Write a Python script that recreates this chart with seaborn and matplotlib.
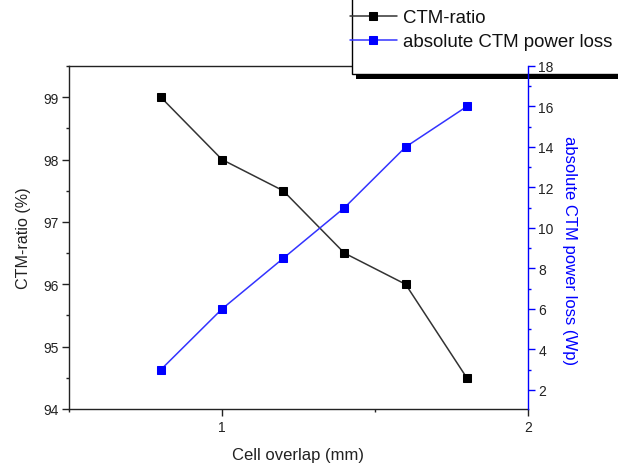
import matplotlib
matplotlib.use("Agg")
import matplotlib.pyplot as plt
import seaborn as sns
import pandas as pd
from matplotlib.patches import Rectangle
from matplotlib.ticker import MultipleLocator

overlap = [0.8, 1.0, 1.2, 1.4, 1.6, 1.8]
ctm_ratio = [99.0, 98.0, 97.5, 96.5, 96.0, 94.5]
power_loss = [3.0, 6.0, 8.5, 11.0, 14.0, 16.0]

sns.set_style("white")
plt.rcParams['font.family'] = ['Liberation Sans', 'DejaVu Sans']

W, H = 618, 464
fig = plt.figure(figsize=(W / 100, H / 100), dpi=100)
ax = fig.add_axes([69 / W, 1 - 410 / H, (528 - 69) / W, (410 - 67) / H])
ax2 = ax.twinx()
ax2.set_zorder(10)

df = pd.DataFrame({"overlap": overlap, "ratio": ctm_ratio, "loss": power_loss})

sns.lineplot(data=df, x="overlap", y="ratio", ax=ax, color="#333333", lw=1.1,
             marker="s", markersize=5.5, markerfacecolor="black",
             markeredgecolor="black", label="CTM-ratio", legend=False)
sns.lineplot(data=df, x="overlap", y="loss", ax=ax2, color="#3333ff", lw=1.1,
             marker="s", markersize=5.5, markerfacecolor="#0000ff",
             markeredgecolor="#0000ff", label="absolute CTM power loss", legend=False)

ax.set_xlim(0.5, 2.0)
ax.set_ylim(94, 99.5)
ax2.set_ylim(1.06, 18)

ax.xaxis.set_major_locator(MultipleLocator(1))
ax.xaxis.set_minor_locator(MultipleLocator(0.5))
ax.yaxis.set_major_locator(MultipleLocator(1))
ax.yaxis.set_minor_locator(MultipleLocator(0.5))
ax2.yaxis.set_major_locator(MultipleLocator(2))
ax2.yaxis.set_minor_locator(MultipleLocator(1))

for a in (ax, ax2):
    for s in a.spines.values():
        s.set_color("#222222")
        s.set_linewidth(1.0)
ax2.spines['right'].set_color("#0000ff")
ax2.spines['top'].set_visible(False)
ax2.spines['left'].set_visible(False)
ax2.spines['bottom'].set_visible(False)
ax.spines['right'].set_visible(False)

ax.tick_params(axis="x", which="major", direction="out", length=5, width=1,
               pad=3, labelsize=10, color="#222222", labelcolor="#222222", bottom=True)
ax.tick_params(axis="y", which="major", direction="out", length=5, width=1,
               pad=2.5, labelsize=10, color="#222222", labelcolor="#222222", left=True)
ax.tick_params(axis="both", which="minor", direction="out", length=2.5, width=1,
               color="#222222", bottom=True, left=True)
ax2.tick_params(axis="y", which="major", direction="out", length=5, width=1,
                pad=2.5, labelsize=10, color="#0000ff", labelcolor="#222222", right=True)
ax2.tick_params(axis="y", which="minor", direction="out", length=2.5, width=1,
                color="#0000ff", right=True)

ax.set_xlabel("Cell overlap (mm)", fontsize=12, color="#222222", labelpad=9)
ax.set_ylabel("CTM-ratio (%)", fontsize=11.6, color="#222222", labelpad=9)
ax2.set_ylabel("absolute CTM power loss (Wp)", fontsize=12, color="#0000ff",
               rotation=270, va="center", ha="center")
ax2.yaxis.set_label_coords(1.0915, 0.466)

# legend box (top cut off by figure edge) with thick shadow bar
frame = Rectangle((352 / W, 1 - 75 / H), (W + 20 - 352) / W, 100 / H,
                  transform=fig.transFigure, facecolor="white",
                  edgecolor="black", linewidth=1.0, zorder=4)
shadow = Rectangle((356 / W, 1 - 80 / H), (W - 356) / W, 4 / H,
                   transform=fig.transFigure, facecolor="black",
                   edgecolor="none", zorder=4.5)
fig.patches.extend([frame, shadow])

h1, l1 = ax.get_legend_handles_labels()
h2, l2 = ax2.get_legend_handles_labels()
leg = fig.legend(h1 + h2, l1 + l2, loc="upper left",
                 bbox_to_anchor=(350 / W, 1 - 10 / H),
                 bbox_transform=fig.transFigure, fontsize=13.4, frameon=False,
                 borderpad=0, handlelength=2.5, handletextpad=0.35,
                 labelspacing=0.38, borderaxespad=0)
leg.set_zorder(5)
for t in leg.get_texts():
    t.set_color("#111111")

fig.savefig("out.png", dpi=100)
